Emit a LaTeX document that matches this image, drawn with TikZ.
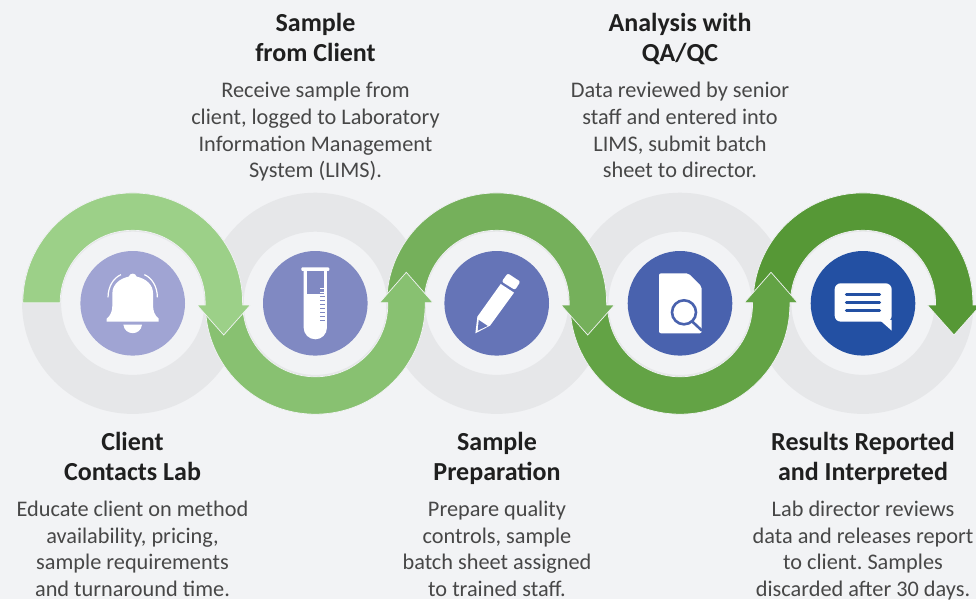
\documentclass[tikz,border=0pt]{standalone}
\usepackage{fontspec}
\setmainfont{Carlito}
\frenchspacing
\definecolor{bgc}{HTML}{F2F3F5}
\definecolor{ringc}{HTML}{E6E7E9}
\definecolor{arcA}{HTML}{9CD088}
\definecolor{arcB}{HTML}{88C171}
\definecolor{arcC}{HTML}{75B05B}
\definecolor{arcD}{HTML}{63A345}
\definecolor{arcE}{HTML}{569836}
\definecolor{discA}{HTML}{A0A4D3}
\definecolor{discB}{HTML}{8089C2}
\definecolor{discC}{HTML}{6574B7}
\definecolor{discD}{HTML}{4962AE}
\definecolor{discE}{HTML}{2350A3}
\newcommand{\RO}{109.9}
\newcommand{\RI}{72.5}
% top arc with down arrow: centre x
\newcommand{\toparc}[2]{%
  \fill[arcline,fill=#2,shift={(#1,303.3)}]
    (-\RO,-0.5) arc[start angle=180,end angle=0,x radius=\RO,y radius=-\RO] -- (\RO,1.7)
    -- (117.7,1.7) -- (91,31.7) -- (64.3,1.7) -- (\RI,1.7) -- (\RI,-0.5)
    arc[start angle=0,end angle=180,x radius=\RI,y radius=-\RI] -- cycle;}
% bottom arc with up arrow
\newcommand{\botarc}[2]{%
  \fill[arcline,fill=#2,shift={(#1,303.3)}]
    (-\RO,1) arc[start angle=180,end angle=360,x radius=\RO,y radius=-\RO] -- (\RO,-0.6)
    -- (117.7,-0.6) -- (91,-31) -- (64.3,-0.6) -- (\RI,-0.6) -- (\RI,1)
    arc[start angle=360,end angle=180,x radius=\RI,y radius=-\RI] -- cycle;}
\tikzset{
  x=1pt,y=-1pt,
  arcline/.style={draw=bgc,line width=0.7pt,line join=miter},
  ringshape/.style={draw=none,fill=ringc},
  disc/.style={circle,draw=none,minimum size=104.6pt,inner sep=0pt},
  ttl/.style={align=center,font=\fontsize{26}{30}\selectfont\bfseries,text=black!88,inner sep=0pt,text height=30pt,text depth=0pt},
  txt/.style={align=center,font=\fontsize{22.3}{26.67}\selectfont,text=black!72,inner sep=0pt,text height=80pt,text depth=0pt},
  wh/.style={fill=white,draw=none},
}
\begin{document}
\begin{tikzpicture}
\useasboundingbox (0,0) rectangle (976,599);
\clip (0,0) rectangle (976,599);
\fill[bgc] (0,0) rectangle (976,599);
% grey rings
\foreach \c in {132.7,315.3,496.7,680,863}{
  \fill[ringshape,even odd rule] (\c,303.3) circle[radius=110.6] (\c,303.3) circle[radius=71.6];
}
% arcs, last first so that each arrowhead lies on the next arc
\toparc{863}{arcE}
\botarc{680}{arcD}
\toparc{496.7}{arcC}
\botarc{315.3}{arcB}
\toparc{132.7}{arcA}
% icon discs
\node[disc,fill=discA] (d1) at (132.7,303.3) {};
\node[disc,fill=discB] (d2) at (315.3,303.3) {};
\node[disc,fill=discC] (d3) at (496.7,303.3) {};
\node[disc,fill=discD] (d4) at (680,303.3) {};
\node[disc,fill=discE] (d5) at (863,303.3) {};
% bell (units: zoomed pixels around the centre)
\begin{scope}[shift={(132.7,303.3)},x=0.3333pt,y=-0.3333pt]
  \fill[wh] (-78,55) -- (-78,46) .. controls (-66,36) and (-61,24) .. (-61,5)
    -- (-61,-30) .. controls (-61,-56) and (-40,-74) .. (-12,-80)
    .. controls (-8,-92) and (8,-92) .. (12,-80)
    .. controls (40,-74) and (61,-56) .. (61,-30) -- (61,5)
    .. controls (61,24) and (66,36) .. (78,46) -- (78,55) -- cycle;
  \fill[wh] (-28,64) -- (28,64) .. controls (24,98) and (-24,98) .. (-28,64) -- cycle;
  \draw[white,line width=1.2pt] (-74,-18) .. controls (-74,-50) and (-58,-76) .. (-35,-86);
  \draw[white,line width=1.2pt] (74,-18) .. controls (74,-50) and (58,-76) .. (35,-86);
\end{scope}
% test tube
\begin{scope}[shift={(315.3,303.3)},x=0.3333pt,y=-0.3333pt]
  \fill[wh] (-35,-100) -- (35,-100) -- (35,73) arc[start angle=0,end angle=180,x radius=35,y radius=35] -- cycle;
  \fill[discB] (-26,-98) rectangle (27,-27);
  \fill[wh,rounded corners=1pt] (-42,-108) rectangle (42,-97);
  \foreach \yy in {-45,-33}{\fill[white] (15,\yy) rectangle (29,\yy+3);}
  \foreach \yy in {-21,-9,3,15,27,39,51}{\fill[discB] (15,\yy) rectangle (29,\yy+3);}
\end{scope}
% pencil
\begin{scope}[shift={(496.7,303.3)},x=0.3333pt,y=-0.3333pt]
  \fill[wh,rounded corners=2pt] (33,-90) -- (71,-65) -- (55,-40) -- (15,-65) -- cycle;
  \fill[wh,line join=round] (12,-58) -- (52,-32) -- (-20,67) -- (-64,90) -- (-58,40) -- cycle;
  \fill[discC] (-54,50) -- (-27,68) -- (-57,82) -- cycle;
\end{scope}
% document with lens
\begin{scope}[shift={(680,303.3)},x=0.3333pt,y=-0.3333pt]
  \fill[wh,rounded corners=2pt] (-63,-90) -- (25,-90) -- (65,-50) -- (65,90) -- (-63,90) -- cycle;
  \draw[discD,line width=2.6pt] (12,27) circle[radius=36];
  \draw[discD,line width=2.6pt] (37,55) -- (66,82);
\end{scope}
% speech bubble
\begin{scope}[shift={(863,303.3)},x=0.3333pt,y=-0.3333pt]
  \fill[wh,rounded corners=6pt] (-85,-60) rectangle (86,55);
  \fill[wh] (50,50) -- (86,82) -- (86,50) -- cycle;
  \foreach \yy in {-27,-3,21}{
    \draw[discE,line width=2.8pt,line cap=round] (-50,\yy) -- (50,\yy);
  }
\end{scope}
% texts
\node[ttl] (t1) at (132.5,465) {Client\\Contacts Lab};
\node[txt] (b1) at (132.5,556.5) {Educate client on method\\availability, pricing,\\sample requirements\\and turnaround time.};
\node[ttl] (t2) at (315.5,46.7) {Sample\\from Client};
\node[txt] (b2) at (315.5,137.7) {Receive sample from\\client, logged to Laboratory\\Information Management\\System (LIMS).};
\node[ttl] (t3) at (497,465) {Sample\\Preparation};
\node[txt] (b3) at (497,556.5) {Prepare quality\\controls, sample\\batch sheet assigned\\to trained staff.};
\node[ttl] (t4) at (680,46.7) {Analysis with\\QA/QC};
\node[txt] (b4) at (680,137.7) {Data reviewed by senior\\staff and entered into\\LIMS, submit batch\\sheet to director.};
\node[ttl] (t5) at (863,465) {Results Reported\\and Interpreted};
\node[txt] (b5) at (863,556.5) {Lab director reviews\\data and releases report\\to client. Samples\\discarded after 30 days.};
\end{tikzpicture}
\end{document}
